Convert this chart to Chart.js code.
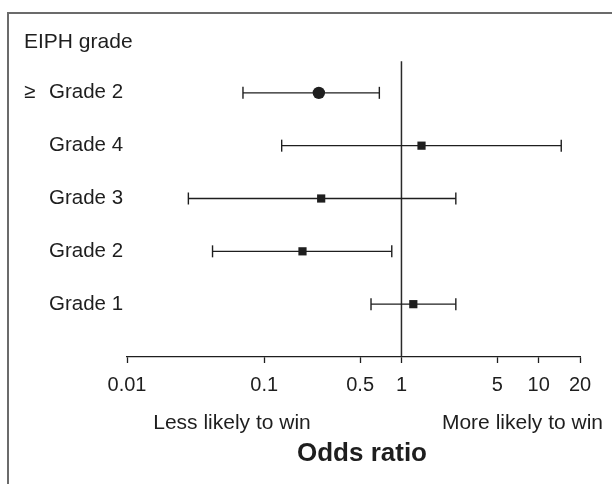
<!DOCTYPE html>
<html>
<head>
<meta charset="utf-8">
<script src="https://cdn.jsdelivr.net/npm/chart.js@4.4.1/dist/chart.umd.min.js"></script>
<style>
  html, body { margin: 0; padding: 0; background: #fff; }
  canvas { display: block; }
</style>
</head>
<body>
<canvas id="forestChart" width="612" height="484"></canvas>
<script>
// rows from bottom to top
const categories = ['Grade 1', 'Grade 2', 'Grade 3', 'Grade 4', '≥ Grade 2'];
const oddsRatio = [1.22, 0.19, 0.26, 1.40, 0.25];
const ciLow = [0.60, 0.042, 0.028, 0.134, 0.070];
const ciHigh = [2.49, 0.85, 2.49, 14.6, 0.69];
const xTicks = [0.01, 0.1, 0.5, 1, 5, 10, 20];
const headerLabel = 'EIPH grade';

const ink = '#1e1e1e';
const font = 'Liberation Sans, Arial, Helvetica, sans-serif';

const estimateSet = {
  label: 'Odds ratio',
  data: oddsRatio.map((v, i) => ({ x: v, y: i + 1 })),
  pointStyle: categories.map(c => c.startsWith('≥') ? 'circle' : 'rect'),
  pointRadius: categories.map(c => c.startsWith('≥') ? 6.2 : 5.8),
  backgroundColor: ink,
  borderColor: ink,
  borderWidth: 0,
  showLine: false
};

const ciSets = categories.map((c, i) => ({
  label: c,
  data: [{ x: ciLow[i], y: i + 1 }, { x: ciHigh[i], y: i + 1 }],
  showLine: true,
  borderColor: ink,
  borderWidth: 1.3,
  pointStyle: 'line',
  rotation: 90,
  pointRadius: 6,
  pointBorderWidth: 1.4,
  pointBorderColor: ink
}));

// line of no effect (OR = 1)
const refSet = {
  label: 'ref',
  data: [{ x: 1, y: 0 }, { x: 1, y: 5.6 }],
  showLine: true,
  borderColor: '#2a2a2a',
  borderWidth: 1.5,
  pointRadius: 0
};

const textPlugin = {
  id: 'forestText',
  afterDraw(chart) {
    const ctx = chart.ctx;
    const y = chart.scales.y;
    ctx.save();
    // frame (top and left edges only visible)
    ctx.strokeStyle = '#6b6b6b';
    ctx.lineWidth = 2;
    ctx.beginPath();
    ctx.moveTo(8, 484);
    ctx.lineTo(8, 13);
    ctx.lineTo(612, 13);
    ctx.stroke();

    ctx.fillStyle = ink;
    ctx.font = '21px ' + font;
    ctx.textBaseline = 'middle';
    ctx.textAlign = 'left';
    ctx.fillText(headerLabel, 24, y.getPixelForValue(5.95));
    ctx.font = '20.5px ' + font;
    categories.forEach((c, i) => {
      const py = y.getPixelForValue(i + 1);
      if (c.startsWith('≥')) {
        ctx.fillText('≥', 24, py);
        ctx.fillText(c.replace('≥', '').trim(), 49, py);
      } else {
        ctx.fillText(c, 49, py);
      }
    });

    ctx.font = '21px ' + font;
    ctx.textBaseline = 'alphabetic';
    ctx.textAlign = 'center';
    ctx.fillText('Less likely to win', 232, 429);
    ctx.textAlign = 'right';
    ctx.fillText('More likely to win', 603, 429);

    ctx.textAlign = 'center';
    ctx.font = 'bold 26px ' + font;
    ctx.fillText('Odds ratio', 362, 461);
    ctx.restore();
  }
};

new Chart(document.getElementById('forestChart').getContext('2d'), {
  type: 'scatter',
  data: { datasets: [estimateSet, ...ciSets, refSet] },
  options: {
    responsive: false,
    animation: false,
    layout: { padding: { left: 127, right: 32, top: 40, bottom: 0 } },
    plugins: { legend: { display: false }, tooltip: { enabled: false } },
    scales: {
      x: {
        type: 'logarithmic',
        min: 0.01,
        max: 20,
        afterBuildTicks: s => { s.ticks = xTicks.map(v => ({ value: v })); },
        afterFit: s => { s.height = 127; },
        border: { display: true, color: ink, width: 1.3 },
        grid: { drawOnChartArea: false, drawTicks: true, tickLength: 6, tickColor: ink, tickWidth: 1.3 },
        ticks: {
          autoSkip: false,
          maxRotation: 0,
          padding: 10,
          color: ink,
          font: { family: font, size: 20 },
          callback: v => String(v)
        }
      },
      y: {
        type: 'linear',
        min: 0,
        max: 6,
        display: false
      }
    }
  },
  plugins: [textPlugin]
});
</script>
</body>
</html>
